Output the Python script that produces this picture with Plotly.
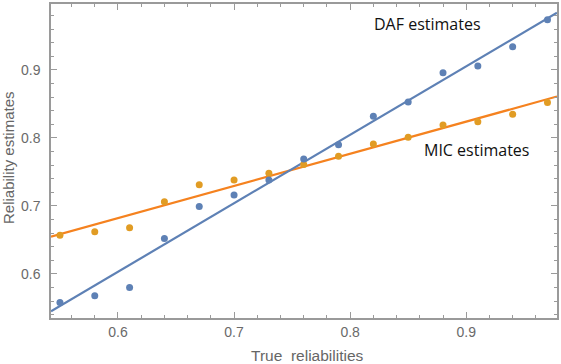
import numpy as np
import plotly.graph_objects as go

true_rel = [0.55, 0.58, 0.61, 0.64, 0.67, 0.70, 0.73, 0.76, 0.79, 0.82, 0.85, 0.88, 0.91, 0.94, 0.97]
daf_est = [0.558, 0.568, 0.580, 0.652, 0.699, 0.716, 0.738, 0.769, 0.790, 0.832, 0.853, 0.896, 0.906, 0.934, 0.974]
mic_est = [0.657, 0.662, 0.668, 0.706, 0.731, 0.738, 0.748, 0.761, 0.773, 0.791, 0.801, 0.819, 0.824, 0.835, 0.852]

x_range = [0.5423, 0.9782]
y_range = [0.5352, 0.997]
tick_vals = [0.6, 0.7, 0.8, 0.9]
tick_text = ["0.6", "0.7", "0.8", "0.9"]

BLUE = "#5E81B5"
ORANGE_PT = "#E19C24"
ORANGE_LN = "#F5821F"
GRAY = "#9a9a9a"

xs = np.array(x_range)
daf_fit = np.polyval(np.polyfit(true_rel, daf_est, 1), xs)
mic_fit = np.polyval(np.polyfit(true_rel, mic_est, 1), xs)

fig = go.Figure()
fig.add_trace(go.Scatter(x=xs, y=mic_fit, mode="lines", line=dict(color=ORANGE_LN, width=2.2), showlegend=False, hoverinfo="skip"))
fig.add_trace(go.Scatter(x=xs, y=daf_fit, mode="lines", line=dict(color=BLUE, width=2.2), showlegend=False, hoverinfo="skip"))
fig.add_trace(go.Scatter(x=true_rel, y=mic_est, mode="markers", marker=dict(color=ORANGE_PT, size=7), name="MIC estimates", showlegend=False))
fig.add_trace(go.Scatter(x=true_rel, y=daf_est, mode="markers", marker=dict(color=BLUE, size=7), name="DAF estimates", showlegend=False))

axis_common = dict(
    showgrid=False, zeroline=False, showline=True, linecolor=GRAY, linewidth=1.5,
    mirror="ticks", ticks="inside", ticklen=6, tickcolor=GRAY, tickwidth=1,
    tickfont=dict(family="Liberation Sans, Arial", size=14, color="#6a6a6a"),
    minor=dict(dtick=0.02, ticks="inside", ticklen=3, tickcolor=GRAY, tickwidth=1),
    tickvals=tick_vals, ticktext=tick_text,
)

fig.update_xaxes(range=x_range, ticklabelstandoff=0, **axis_common)
fig.update_yaxes(range=y_range, ticklabelstandoff=6, **axis_common)

fig.add_annotation(text="DAF estimates", xref="paper", yref="paper", x=(428.5 - 51) / 508, y=(318 - 22) / 316,
                   showarrow=False, font=dict(family="Open Sans", size=16, color="#111111"), xanchor="center", yanchor="middle")
fig.add_annotation(text="MIC estimates", xref="paper", yref="paper", x=(478 - 51) / 508, y=(318 - 149) / 316,
                   showarrow=False, font=dict(family="Open Sans", size=16, color="#111111"), xanchor="center", yanchor="middle")
fig.add_annotation(text="True  reliabilities", xref="paper", yref="paper", x=(309 - 51) / 508, y=0, yshift=-37,
                   showarrow=False, font=dict(family="Liberation Sans, Arial", size=15.5, color="#666666"), xanchor="center", yanchor="middle")
fig.add_annotation(text="Reliability estimates", xref="paper", yref="paper", x=0, xshift=-43, y=(318 - 157) / 316,
                   textangle=-90, showarrow=False, font=dict(family="Liberation Sans, Arial", size=15, color="#666666"),
                   xanchor="center", yanchor="middle")

fig.update_layout(
    width=561, height=364,
    margin=dict(l=51, r=2, t=2, b=46),
    paper_bgcolor="white", plot_bgcolor="white",
    showlegend=False,
)

fig.write_html("out.html", config={"displayModeBar": False},
               post_script="document.body.style.margin='0';document.body.style.overflow='hidden';")
